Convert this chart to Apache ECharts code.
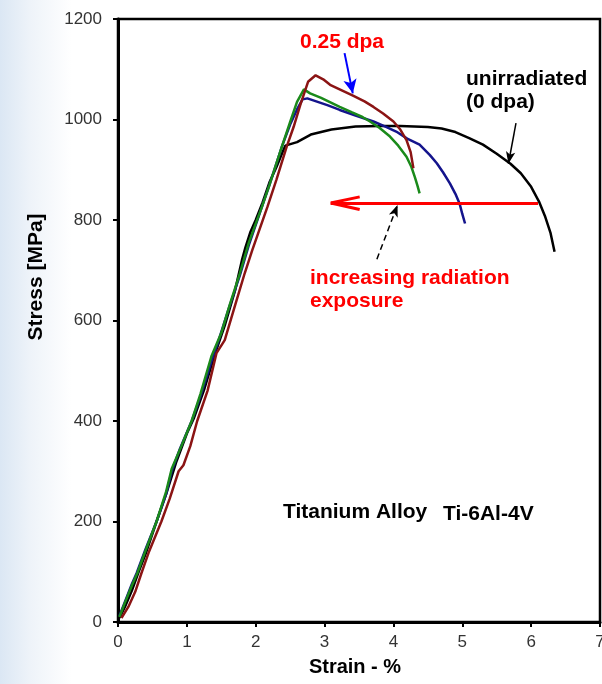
<!DOCTYPE html>
<html>
<head>
<meta charset="utf-8">
<script src="https://cdn.jsdelivr.net/npm/echarts@6/dist/echarts.min.js"></script>
<style>html,body{margin:0;padding:0;background:#fff}#c{width:602px;height:684px}</style>
</head>
<body>
<div id="c"></div>
<script>
// Data: [strain %, stress MPa]
const unirradiated = [[0.02,8],[0.1,30],[0.2,62],[0.3,100],[0.4,135],[0.56,200],[0.7,255],[0.85,320],[1.0,375],[1.1,405],[1.25,462],[1.4,530],[1.55,590],[1.7,660],[1.8,720],[1.85,745],[1.92,775],[2.0,800],[2.1,835],[2.2,875],[2.3,905],[2.38,932],[2.43,948],[2.6,955],[2.8,970],[3.1,980],[3.45,986],[3.8,987],[4.1,987],[4.5,985],[4.7,982],[4.9,975],[5.1,963],[5.3,950],[5.5,932],[5.7,912],[5.85,893],[6.0,866],[6.12,835],[6.2,808],[6.28,775],[6.34,737]];
const doseBlue = [[0.02,12],[0.1,40],[0.2,75],[0.27,97],[0.4,145],[0.56,200],[0.7,255],[0.78,300],[0.9,345],[1.07,400],[1.2,450],[1.36,520],[1.46,560],[1.6,620],[1.77,690],[1.9,750],[2.09,826],[2.2,870],[2.38,946],[2.5,990],[2.6,1020],[2.68,1040],[2.75,1042],[2.9,1035],[3.05,1028],[3.22,1019],[3.45,1008],[3.71,996],[3.9,985],[4.04,976],[4.2,962],[4.38,950],[4.53,929],[4.63,913],[4.72,895],[4.82,873],[4.9,852],[4.96,833],[5.0,812],[5.04,793]];
const doseGreen = [[0.02,10],[0.1,38],[0.2,72],[0.28,97],[0.4,142],[0.56,200],[0.7,260],[0.78,305],[0.92,350],[1.07,400],[1.2,455],[1.36,530],[1.5,575],[1.62,630],[1.77,694],[1.9,755],[2.09,826],[2.2,870],[2.38,946],[2.5,995],[2.6,1035],[2.7,1060],[2.79,1052],[2.95,1043],[3.1,1033],[3.22,1025],[3.4,1014],[3.55,1005],[3.66,996],[3.8,983],[3.95,966],[4.07,948],[4.19,926],[4.26,906],[4.31,886],[4.35,868],[4.38,853]];
const dose025 = [[0.05,8],[0.15,30],[0.25,60],[0.34,97],[0.45,140],[0.63,200],[0.75,245],[0.88,300],[0.95,312],[1.05,350],[1.15,400],[1.3,460],[1.43,535],[1.55,561],[1.7,630],[1.84,694],[1.95,740],[2.17,826],[2.3,880],[2.45,946],[2.55,985],[2.65,1030],[2.76,1075],[2.87,1088],[2.98,1080],[3.08,1069],[3.25,1058],[3.42,1047],[3.58,1036],[3.71,1025],[3.85,1012],[4.0,996],[4.1,980],[4.19,959],[4.25,935],[4.29,903]];

const xTicks = [0,1,2,3,4,5,6,7];
const yTicks = [0,200,400,600,800,1000,1200];

// Annotation arrows in data coordinates
const redArrow = {from:[6.10,834], to:[3.09,834], barbA:[3.51,846], barbB:[3.51,821]};
const blueArrow = {from:[3.29,1132], to:[3.41,1052]};
const blackArrow = {from:[5.78,993], to:[5.67,912]};
const dashedArrow = {from:[3.76,722], to:[4.06,830]};

const chart = echarts.init(document.getElementById('c'), null, {renderer:'canvas'});
const font = 'Liberation Sans, Arial, sans-serif';
const mk = (d,c,w)=>({type:'line',data:d,showSymbol:false,symbol:'none',lineStyle:{color:c,width:w},z:3,animation:false});

chart.setOption({
  animation:false,
  backgroundColor:'#ffffff',
  grid:{left:118,right:2,top:19,bottom:62,outerBoundsMode:'none',containLabel:false,show:true,borderColor:'#000',borderWidth:2.5,backgroundColor:'transparent'},
  xAxis:{type:'value',min:0,max:7,interval:1,
    axisLine:{show:true,onZero:false,lineStyle:{color:'#000',width:3}},
    axisTick:{show:true,length:5,lineStyle:{color:'#000',width:2}},
    axisLabel:{fontSize:17,color:'#333',fontFamily:font,margin:12,formatter:v=>xTicks.includes(v)?String(v):''},
    splitLine:{show:false}},
  yAxis:{type:'value',min:0,max:1200,interval:200,
    axisLine:{show:true,onZero:false,lineStyle:{color:'#000',width:3}},
    axisTick:{show:true,length:5,lineStyle:{color:'#000',width:2}},
    axisLabel:{fontSize:17,color:'#333',fontFamily:font,margin:16,formatter:v=>yTicks.includes(v)?String(v):''},
    splitLine:{show:false}},
  graphic:[
    {type:'rect',z:-10,silent:true,shape:{x:0,y:0,width:602,height:684},
     style:{fill:new echarts.graphic.LinearGradient(0,0,1,0,[{offset:0,color:'#dbe7f4'},{offset:0.05,color:'#eef3f9'},{offset:0.12,color:'#ffffff'},{offset:1,color:'#ffffff'}])}},
    {type:'text',left:300,top:32,style:{text:'0.25 dpa',fill:'#ff0000',font:'bold 21px '+font}},
    {type:'text',left:466,top:69,style:{text:'unirradiated',fill:'#000',font:'bold 21px '+font}},
    {type:'text',left:466,top:92,style:{text:'(0 dpa)',fill:'#000',font:'bold 21px '+font}},
    {type:'text',left:310,top:268,style:{text:'increasing radiation',fill:'#ff0000',font:'bold 21px '+font}},
    {type:'text',left:310,top:291,style:{text:'exposure',fill:'#ff0000',font:'bold 21px '+font}},
    {type:'text',left:283,top:502,style:{text:'Titanium Alloy',fill:'#000',font:'bold 21px '+font}},
    {type:'text',left:443,top:504,style:{text:'Ti-6Al-4V',fill:'#000',font:'bold 21px '+font}},
    {type:'text',x:36,y:277,rotation:Math.PI/2,style:{text:'Stress [MPa]',fill:'#000',font:'bold 21px '+font,align:'center',verticalAlign:'middle'}},
    {type:'text',x:355,y:667,style:{text:'Strain - %',fill:'#000',font:'bold 20px '+font,align:'center',verticalAlign:'middle'}}
  ],
  series:[
    mk(unirradiated,'#000000',2.5),
    mk(doseBlue,'#14148c',2.5),
    mk(doseGreen,'#1a8a1a',2.5),
    mk(dose025,'#8b1414',2.5),
    {type:'line',data:[],symbol:'none',silent:true,animation:false,z:5,
     markLine:{silent:true,animation:false,label:{show:false},
       data:[
         [{coord:redArrow.from,symbol:'none',lineStyle:{color:'#ff0000',width:3,type:'solid'}},{coord:redArrow.to,symbol:'none'}],
         [{coord:redArrow.to,symbol:'none',lineStyle:{color:'#ff0000',width:3,type:'solid'}},{coord:redArrow.barbA,symbol:'none'}],
         [{coord:redArrow.to,symbol:'none',lineStyle:{color:'#ff0000',width:3,type:'solid'}},{coord:redArrow.barbB,symbol:'none'}],
         [{coord:blueArrow.from,symbol:'none',symbolSize:[10,14],lineStyle:{color:'#0000ff',width:2,type:'solid'}},{coord:blueArrow.to,symbol:'arrow',symbolSize:[10,14]}],
         [{coord:blackArrow.from,symbol:'none',symbolSize:[7,12],lineStyle:{color:'#000',width:1.5,type:'solid'}},{coord:blackArrow.to,symbol:'arrow',symbolSize:[7,12]}],
         [{coord:dashedArrow.from,symbol:'none',symbolSize:[7,12],lineStyle:{color:'#000',width:1.5,type:[6,4]}},{coord:dashedArrow.to,symbol:'arrow',symbolSize:[7,12]}]
       ]}}
  ]
});
</script>
</body>
</html>
